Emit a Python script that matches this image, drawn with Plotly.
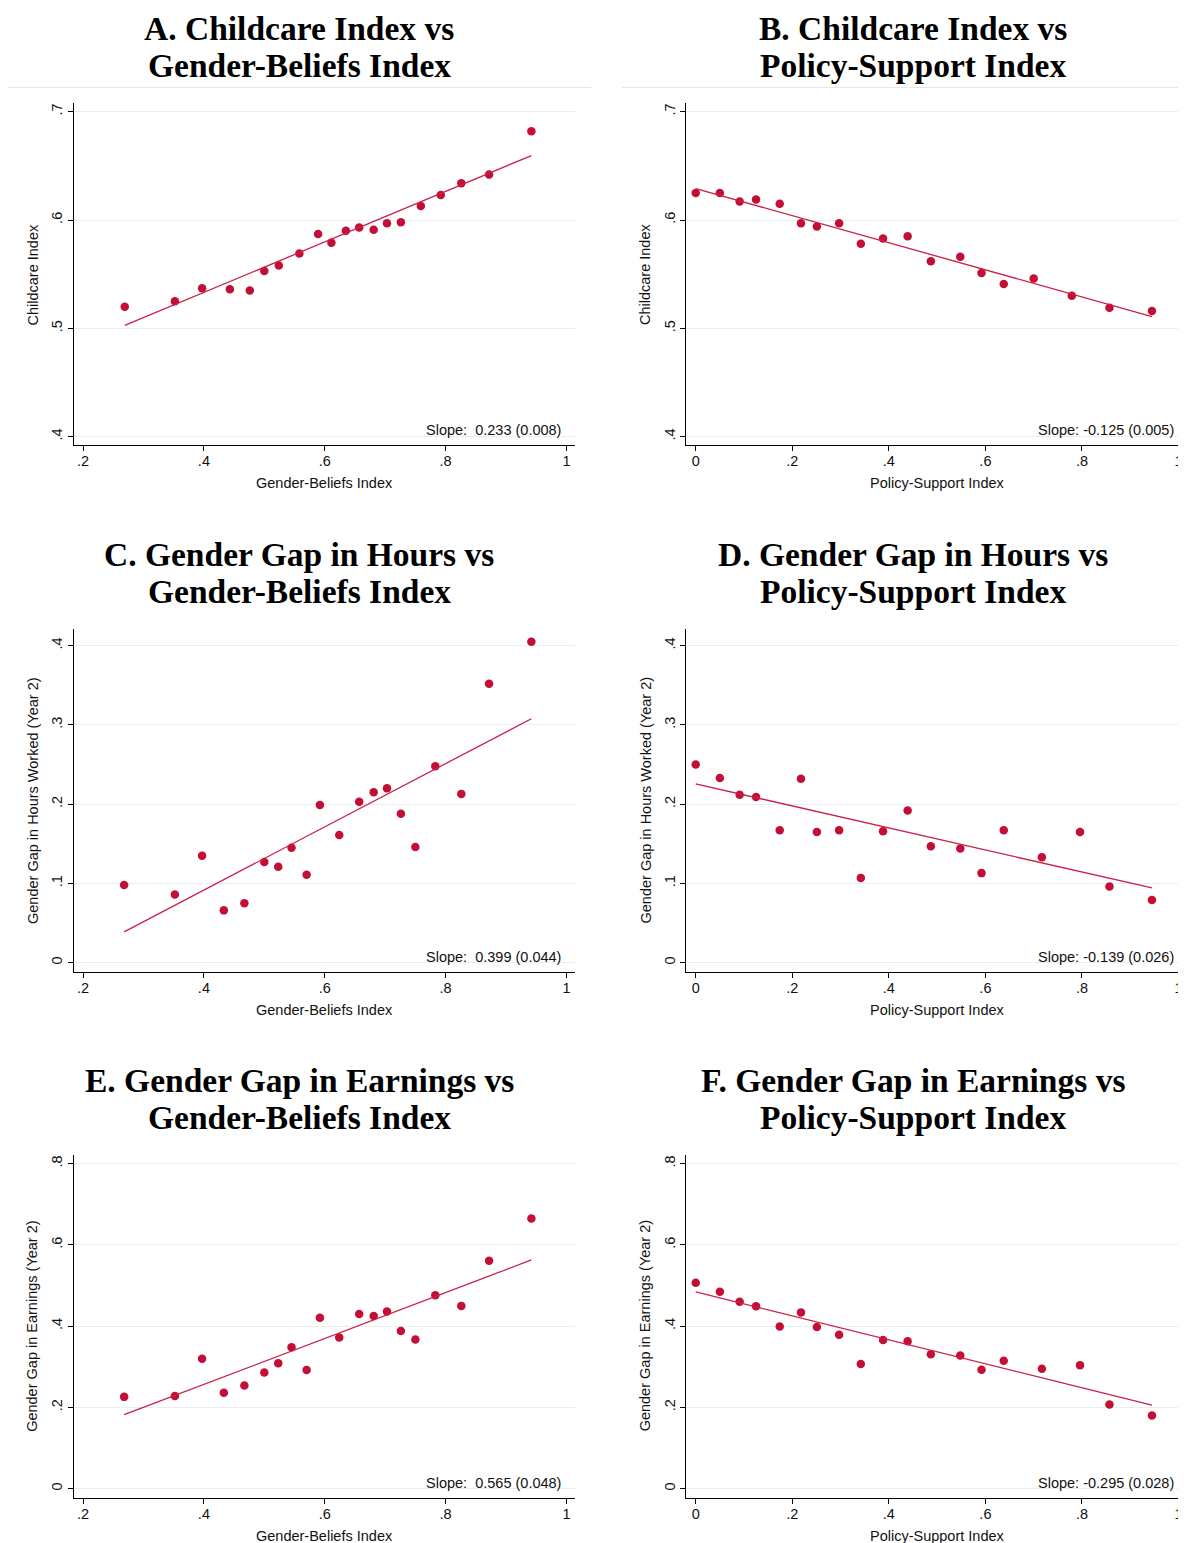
import plotly.graph_objects as go

# ---------------- data ----------------
gb_x_a = [0.269, 0.352, 0.397, 0.443, 0.476, 0.500, 0.524, 0.558, 0.589, 0.611,
          0.635, 0.657, 0.681, 0.703, 0.726, 0.759, 0.792, 0.826, 0.872, 0.942]
childcare_gb = [0.520, 0.525, 0.537, 0.536, 0.535, 0.553, 0.558, 0.569, 0.587, 0.579,
                0.590, 0.593, 0.591, 0.597, 0.598, 0.613, 0.623, 0.634, 0.642, 0.682]

ps_x_b = [0.000, 0.050, 0.091, 0.125, 0.174, 0.218, 0.251, 0.297, 0.342, 0.388,
          0.439, 0.487, 0.548, 0.592, 0.638, 0.700, 0.779, 0.857, 0.945]
childcare_ps = [0.625, 0.625, 0.617, 0.619, 0.615, 0.597, 0.594, 0.597, 0.578, 0.583,
                0.585, 0.562, 0.566, 0.551, 0.541, 0.546, 0.530, 0.519, 0.516]

gb_x_ce = [0.268, 0.352, 0.397, 0.433, 0.467, 0.500, 0.523, 0.545, 0.570, 0.592,
           0.624, 0.657, 0.681, 0.703, 0.726, 0.750, 0.783, 0.826, 0.872, 0.942]
hours_gb = [0.098, 0.086, 0.135, 0.066, 0.075, 0.127, 0.121, 0.145, 0.111, 0.199,
            0.161, 0.203, 0.215, 0.220, 0.188, 0.146, 0.248, 0.213, 0.352, 0.405]
earn_gb = [0.226, 0.228, 0.320, 0.236, 0.254, 0.286, 0.309, 0.348, 0.292, 0.421,
           0.372, 0.430, 0.425, 0.436, 0.388, 0.367, 0.476, 0.450, 0.561, 0.665]

ps_x_df = [0.000, 0.050, 0.091, 0.125, 0.174, 0.218, 0.251, 0.297, 0.342, 0.388,
           0.439, 0.487, 0.548, 0.592, 0.638, 0.717, 0.796, 0.857, 0.945]
hours_ps = [0.250, 0.233, 0.212, 0.209, 0.167, 0.232, 0.165, 0.167, 0.107, 0.166,
            0.192, 0.147, 0.144, 0.113, 0.167, 0.133, 0.165, 0.096, 0.079]
earn_ps = [0.507, 0.485, 0.460, 0.449, 0.399, 0.434, 0.398, 0.379, 0.307, 0.366,
           0.363, 0.331, 0.328, 0.293, 0.315, 0.295, 0.304, 0.207, 0.180]

fit_slopes = [0.233, -0.125, 0.399, -0.139, 0.565, -0.295]
fit_intercepts = [0.440, 0.629, -0.068, 0.2256, 0.0308, 0.4845]
slope_labels = ["Slope:\u00a0 0.233 (0.008)", "Slope: -0.125 (0.005)",
                "Slope:\u00a0 0.399 (0.044)", "Slope: -0.139 (0.026)",
                "Slope:\u00a0 0.565 (0.048)", "Slope: -0.295 (0.028)"]

titles = [("A. Childcare Index vs", "Gender-Beliefs Index"),
          ("B. Childcare Index vs", "Policy-Support Index"),
          ("C. Gender Gap in Hours vs", "Gender-Beliefs Index"),
          ("D. Gender Gap in Hours vs", "Policy-Support Index"),
          ("E. Gender Gap in Earnings vs", "Gender-Beliefs Index"),
          ("F. Gender Gap in Earnings vs", "Policy-Support Index")]
x_titles = ["Gender-Beliefs Index", "Policy-Support Index"] * 3
y_titles = ["Childcare Index", "Childcare Index",
            "Gender Gap in Hours Worked (Year 2)", "Gender Gap in Hours Worked (Year 2)",
            "Gender Gap in Earnings (Year 2)", "Gender Gap in Earnings (Year 2)"]

gb_ticks = [0.2, 0.4, 0.6, 0.8, 1.0]
gb_tick_text = [".2", ".4", ".6", ".8", "1"]
ps_ticks = [0.0, 0.2, 0.4, 0.6, 0.8, 1.0]
ps_tick_text = ["0", ".2", ".4", ".6", ".8", "1"]
cc_ticks = [0.4, 0.5, 0.6, 0.7]
cc_tick_text = [".4", ".5", ".6", ".7"]
hr_ticks = [0.0, 0.1, 0.2, 0.3, 0.4]
hr_tick_text = ["0", ".1", ".2", ".3", ".4"]
er_ticks = [0.0, 0.2, 0.4, 0.6, 0.8]
er_tick_text = ["0", ".2", ".4", ".6", ".8"]

panels = [
    (gb_x_a, childcare_gb), (ps_x_b, childcare_ps),
    (gb_x_ce, hours_gb), (ps_x_df, hours_ps),
    (gb_x_ce, earn_gb), (ps_x_df, earn_ps),
]

# ---------------- layout geometry (page pixels) ----------------
W, H = 1186, 1543
OFF = 8  # default page body margin
MARKER = "#c30f36"
LINE = "#cc1f45"
SANS = "Liberation Sans, Arial, sans-serif"
SERIF = "Liberation Serif, Times New Roman, serif"

col_x = [(74, 575), (686.3, 1186)]
row_y = [(103, 445), (629.3, 971.7), (1155, 1497.7)]
x_ranges = [[0.185, 1.0142], [-0.0195, 1.0155]]
y_ranges = [[0.3923, 0.708], [-0.0114, 0.4207], [-0.0222, 0.8214]]
y_tickinfo = [(cc_ticks, cc_tick_text), (hr_ticks, hr_tick_text), (er_ticks, er_tick_text)]
x_tickinfo = [(gb_ticks, gb_tick_text), (ps_ticks, ps_tick_text)]
title_cx = [299, 913]
slope_right = [563, 1175.5]
ytitle_x = [32.5, 645]
xtitle_cx = [325, 937]


def px(x):
    return (x - OFF) / W


def py(y):
    return 1 - (y - OFF) / H


fig = go.Figure()
annotations = []
shapes = []
layout = {}

for i, (xs, ys) in enumerate(panels):
    r, c = divmod(i, 2)
    n = i + 1
    xa = "x" if n == 1 else f"x{n}"
    ya = "y" if n == 1 else f"y{n}"
    fig.add_trace(go.Scatter(x=xs, y=ys, mode="markers", xaxis=xa, yaxis=ya,
                             marker=dict(color=MARKER, size=8.5), showlegend=False,
                             hoverinfo="skip"))
    x0, x1 = min(xs), max(xs)
    fx = [x0, x1]
    fy = [fit_intercepts[i] + fit_slopes[i] * v for v in fx]
    fig.add_trace(go.Scatter(x=fx, y=fy, mode="lines", xaxis=xa, yaxis=ya,
                             line=dict(color=LINE, width=1.3), showlegend=False,
                             hoverinfo="skip"))
    xl, xr = col_x[c]
    yt, yb = row_y[r]
    tv, tt = x_tickinfo[c]
    layout["xaxis" if n == 1 else f"xaxis{n}"] = dict(
        domain=[px(xl), min(1.0, px(xr))], range=x_ranges[c], anchor=ya,
        tickvals=tv, ticktext=tt, ticks="outside", ticklen=5, tickwidth=1,
        tickcolor="#000", showline=True, linecolor="#000", linewidth=1,
        showgrid=False, zeroline=False, ticklabelstandoff=-2,
        tickfont=dict(family=SANS, size=14.5, color="#111"),
    )
    tv, tt = y_tickinfo[r]
    layout["yaxis" if n == 1 else f"yaxis{n}"] = dict(
        domain=[py(yb), py(yt)], range=y_ranges[r], anchor=xa,
        tickvals=tv, ticktext=tt, ticks="outside", ticklen=5, tickwidth=1,
        tickcolor="#000", showline=True, linecolor="#000", linewidth=1,
        showgrid=True, gridcolor="#e7eff1", gridwidth=1.2, zeroline=False,
        tickangle=-90, tickfont=dict(family=SANS, size=14.5, color="#111"),
    )
    # titles
    l1, l2 = titles[i]
    annotations.append(dict(x=px(title_cx[c]), y=py(yt - 74.5), xref="paper", yref="paper",
                            text=f"<b>{l1}</b>", showarrow=False, xanchor="center",
                            yanchor="middle", font=dict(family=SERIF, size=33.5, color="#000")))
    annotations.append(dict(x=px(title_cx[c]), y=py(yt - 37.5), xref="paper", yref="paper",
                            text=f"<b>{l2}</b>", showarrow=False, xanchor="center",
                            yanchor="middle", font=dict(family=SERIF, size=33.5, color="#000")))
    # x title
    annotations.append(dict(x=px(xtitle_cx[c]), y=py(yb + 38),
                            xref="paper", yref="paper", text=x_titles[i], showarrow=False,
                            xanchor="center", yanchor="middle",
                            font=dict(family=SANS, size=14.5, color="#111")))
    # y title
    annotations.append(dict(x=px(ytitle_x[c]), y=py((yt + yb) / 2), xref="paper", yref="paper",
                            text=y_titles[i], showarrow=False, textangle=-90,
                            xanchor="center", yanchor="middle",
                            font=dict(family=SANS, size=14.5, color="#111")))
    # slope
    annotations.append(dict(x=px(slope_right[c]), y=py(yb - 15), xref="paper", yref="paper",
                            text=slope_labels[i], showarrow=False, xanchor="right",
                            yanchor="middle", font=dict(family=SANS, size=14.5, color="#111")))

# light separator lines under the top titles
for (a, b) in [(8, 591), (622, 1186)]:
    shapes.append(dict(type="line", xref="paper", yref="paper", x0=px(a), x1=min(1.0, px(b)),
                       y0=py(87.5), y1=py(87.5), line=dict(color="#e6e6e6", width=1)))

fig.update_layout(
    width=W, height=H, margin=dict(l=0, r=0, t=0, b=0),
    paper_bgcolor="white", plot_bgcolor="white",
    annotations=annotations, shapes=shapes, showlegend=False, **layout,
)

fig.write_html("out.html")
